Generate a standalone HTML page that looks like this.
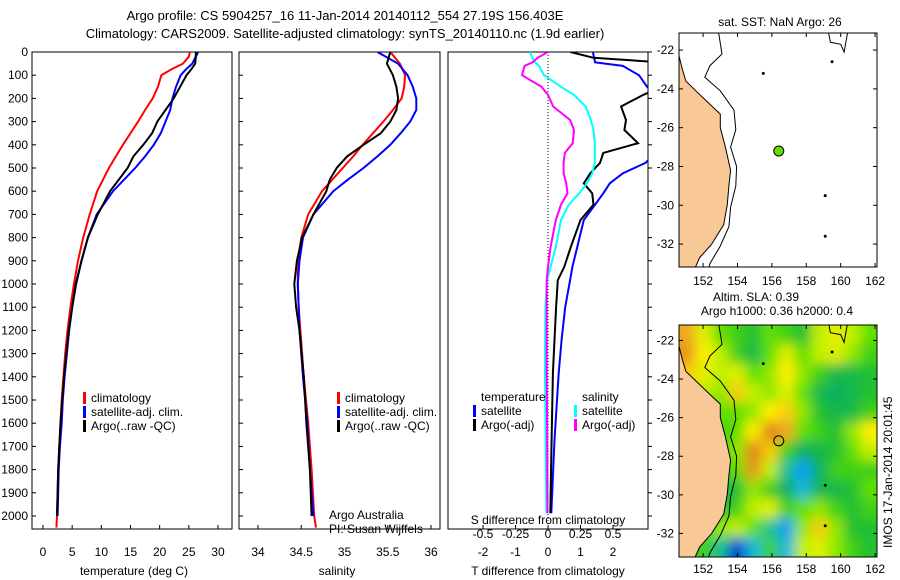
<!DOCTYPE html>
<html><head><meta charset="utf-8"><style>
html,body{margin:0;padding:0;background:#fff}
svg{display:block;font-family:"Liberation Sans",sans-serif;font-size:12px}
</style></head><body>
<svg id="root" width="900" height="580" viewBox="0 0 900 580">
<defs>
<clipPath id="c1"><rect x="32" y="52" width="200" height="477"/></clipPath>
<clipPath id="c2"><rect x="239" y="52" width="201" height="477"/></clipPath>
<clipPath id="c3"><rect x="448" y="52" width="200" height="477"/></clipPath>
<clipPath id="cm1"><rect x="679" y="33" width="198" height="234"/></clipPath>
<clipPath id="cm2"><rect x="679" y="325" width="198" height="232"/></clipPath>
<filter id="blur" x="-5%" y="-5%" width="110%" height="110%"><feGaussianBlur stdDeviation="6"/></filter>
</defs>
<text x="345" y="20" text-anchor="middle" font-size="13">Argo profile: CS 5904257_16 11-Jan-2014 20140112_554 27.19S 156.403E</text>
<text x="345" y="38" text-anchor="middle" font-size="13">Climatology: CARS2009. Satellite-adjusted climatology: synTS_20140110.nc (1.9d earlier)</text>
<g id="g1"></g>
<g id="g2"></g>
<g id="g3"></g>
<g id="gm1"></g>
<g id="gm2"></g>
<text transform="translate(892,548) rotate(-90)" font-size="12">IMOS 17-Jan-2014 20:01:45</text>
</svg>
<script>
const depths = [0,20,50,75,100,150,200,250,300,350,400,450,500,600,700,800,900,1000,1100,1200,1300,1400,1500,1600,1700,1800,1900,2000,2050];
const tempClim = [25.2,25,24,22,20.3,19.7,18.8,17.5,16.3,15,13.7,12.5,11.3,9.3,8,6.9,6,5.3,4.7,4.2,3.8,3.5,3.2,3,2.8,2.6,2.5,2.4,2.3];
const tempSat = [26.6,26.2,25.6,24.5,23.6,22.8,22.2,21.8,21,20.2,19,17.5,15.8,12,9.2,7.7,6.6,5.7,5,4.5,4.1,3.7,3.4,3.2,2.9,2.7,2.6,2.5];
const tempArgo = [26.2,26.2,26.1,25.4,24.6,23.5,22.4,21,19.6,18.7,17.2,15.5,14.5,11.5,9.4,7.7,6.6,5.6,5,4.4,4,3.6,3.3,3,2.8,2.6,2.5,2.4];
const salDepths = [0,50,100,150,200,250,300,350,400,450,500,550,600,700,800,900,1000,1100,1200,1400,1600,1800,2000,2050];
const salClim = [35.53,35.64,35.70,35.69,35.66,35.56,35.45,35.33,35.21,35.10,34.98,34.86,34.74,34.58,34.50,34.46,34.46,34.47,34.49,34.53,34.58,34.62,34.65,34.67];
const salSat = [35.38,35.62,35.73,35.79,35.83,35.83,35.76,35.65,35.53,35.38,35.22,35.04,34.87,34.64,34.52,34.48,34.46,34.47,34.48,34.52,34.57,34.60,34.64];
const salArgo = [35.53,35.49,35.56,35.60,35.62,35.60,35.53,35.42,35.22,35.03,34.91,34.83,34.79,34.64,34.51,34.45,34.42,34.44,34.48,34.53,34.56,34.60,34.62];
const diffDepths = [0,25,45,60,100,150,185,235,293,336,393,435,478,523,566,609,658,724,840,926,983,1100,1240,1385,1672,1988];
const dTSat = [1.38,1.42,1.45,2.3,2.8,3.05,3.3,3.6,4,3.9,3.6,3.3,3.0,2.3,1.9,1.7,1.45,1.1,0.9,0.75,0.68,0.53,0.42,0.33,0.2,0.1];
const dTArgo = [0.69,1.4,3.5,3.8,3.8,3.5,2.93,2.25,2.4,2.35,2.77,1.7,1.6,1.3,1.1,1.36,1.4,1.0,0.7,0.5,0.3,0.25,0.2,0.15,0.11,0.07];
const dSSat = [-0.14,-0.12,-0.1,-0.07,-0.03,0.1,0.2,0.29,0.33,0.35,0.36,0.36,0.36,0.34,0.3,0.24,0.16,0.1,0.06,0.02,-0.008,-0.02,-0.022,-0.023,-0.018,-0.013];
const dSArgo = [0,-0.08,-0.12,-0.18,-0.2,-0.05,0,0.04,0.17,0.2,0.19,0.13,0.12,0.12,0.14,0.15,0.1,0.06,0.02,0.0,-0.01,-0.01,-0.01,-0.01,-0.006,-0.004];
const depthTicks = [0,100,200,300,400,500,600,700,800,900,1000,1100,1200,1300,1400,1500,1600,1700,1800,1900,2000];
const tempTicks = [0,5,10,15,20,25,30];
const salTicks = ["34","34.5","35","35.5","36"];
const tTicks = ["-2","-1","0","1","2"];
const sTicks = ["-0.5","-0.25","0","0.25","0.5"];
const lonTicks = [152,154,156,158,160,162];
const latTicks = [-22,-24,-26,-28,-30,-32];
const argoLon = 156.4, argoLat = -27.2;
const slaGrid = [
[0.35,0.2,0.05,0.0,-0.05,0.05,0.0,-0.05,0.15,0.2,0.15,0.05],
[0.4,0.25,0.15,0.0,-0.1,0.05,0.2,0.05,0.15,0.2,0.1,0.0],
[0.3,0.2,0.15,0.2,0.05,0.1,0.25,0.1,0.0,-0.1,-0.1,-0.05],
[0.2,0.15,0.1,0.3,0.15,0.1,0.2,0.05,-0.1,-0.15,-0.1,-0.05],
[0.15,0.1,0.05,0.05,0.1,0.25,0.3,0.1,-0.05,-0.1,-0.1,0.0],
[0.1,0.05,0.0,0.05,0.25,0.45,0.35,0.05,0.0,-0.05,0.1,0.25],
[0.05,0.05,0.0,0.1,0.45,0.3,0.0,-0.15,-0.1,-0.05,0.05,0.15],
[0.0,0.0,0.0,0.05,0.4,0.15,-0.2,-0.35,-0.15,0.0,0.0,0.0],
[-0.05,-0.05,-0.15,-0.05,0.1,0.0,-0.15,-0.3,-0.1,-0.1,-0.05,0.05],
[0.0,0.0,-0.05,0.0,0.15,0.2,0.0,0.05,0.1,0.0,-0.05,0.0],
[0.05,0.05,0.1,0.15,0.05,-0.2,-0.35,0.1,0.3,0.1,-0.05,-0.05],
[0.0,0.0,-0.2,-0.45,-0.3,0.0,-0.3,0.15,0.2,0.1,0.0,-0.05]];
const coastLon = [150.6,150.6,150.8,151.0,151.7,152.4,153.0,153.0,153.3,153.6,153.5,153.4,153.2,152.5,151.8,151.5,150.6];
const coastLat = [-21.1,-22.3,-23.0,-23.6,-24.2,-24.8,-25.3,-26.0,-27.0,-28.2,-29.0,-30.0,-31.0,-32.0,-32.7,-33.3,-33.3];
const isoLon = [152.9,153.1,152.4,152.1,153.0,153.8,153.9,153.6,153.95,153.9,153.6,153.5,153.0,152.4,152.3];
const isoLat = [-21.1,-22.2,-22.8,-23.4,-24.1,-25.1,-26.1,-27.0,-28.0,-29.0,-30.1,-31.1,-32.1,-33.0,-33.3];

const NS="http://www.w3.org/2000/svg";
function mk(parent,tag,attrs){const e=document.createElementNS(NS,tag);for(const k in attrs)e.setAttribute(k,attrs[k]);parent.appendChild(e);return e;}
function txt(parent,x,y,s,anchor){const t=mk(parent,'text',{x:x,y:y,'text-anchor':anchor||'start'});t.textContent=s;return t;}
const yD = d => 52 + d*0.232;
const xT = t => 43 + t*5.833;
const xS = s => 258 + (s-34)*86.5;
const xdT = v => 548 + v*32.5;
const xdS = v => 548 + v*130;
function line(parent,xs,ds,vals,fn,color,clip,name){
  const pts=vals.map((v,i)=>fn(v).toFixed(1)+','+yD(ds[i]).toFixed(1)).join(' ');
  const p=mk(parent,'polyline',{points:pts,fill:'none',stroke:color,'stroke-width':2,'clip-path':'url(#'+clip+')'});
  
  
  return p;
}
function frame(g,x,y,w,h,name){const r=mk(g,'rect',{x:x,y:y,width:w,height:h,fill:'none',stroke:'#000','stroke-width':1});
  
  }

// Panel 1
const g1=document.getElementById('g1');
frame(g1,32,52,200,477,'temperature-axes-frame');
depthTicks.forEach(d=>{mk(g1,'line',{x1:32,x2:36,y1:yD(d),y2:yD(d),stroke:'#000'});
  const t=txt(g1,28,yD(d)+4,String(d),'end');
  
  });
tempTicks.forEach(v=>{mk(g1,'line',{x1:xT(v),x2:xT(v),y1:529,y2:525,stroke:'#000'});
  const t=txt(g1,xT(v),556,String(v),'middle');
  
  });
const xl1=txt(g1,134,575,'temperature (deg C)','middle');


line(g1,null,depths,tempClim,xT,'#f00','c1','temp-climatology-line');
line(g1,null,depths,tempSat,xT,'#00f','c1','temp-satellite-line');
line(g1,null,depths,tempArgo,xT,'#000','c1','temp-argo-line');
function legend(g,x,y,items){items.forEach((it,i)=>{mk(g,'rect',{x:x,y:y+i*14-10,width:3,height:12,fill:it[1]});
  const t=txt(g,x+8,y+i*14,it[0]);
  
  });}
legend(g1,83,402,[['climatology','#f00'],['satellite-adj. clim.','#00f'],['Argo(..raw -QC)','#000']]);

// Panel 2
const g2=document.getElementById('g2');
frame(g2,239,52,201,477,'salinity-axes-frame');
depthTicks.forEach(d=>{mk(g2,'line',{x1:239,x2:243,y1:yD(d),y2:yD(d),stroke:'#000'});});
salTicks.forEach(s=>{const x=xS(parseFloat(s));mk(g2,'line',{x1:x,x2:x,y1:529,y2:525,stroke:'#000'});
  const t=txt(g2,x,556,s,'middle');
  
  });
const xl2=txt(g2,337,575,'salinity','middle');


line(g2,null,salDepths,salClim,xS,'#f00','c2','sal-climatology-line');
line(g2,null,salDepths,salSat,xS,'#00f','c2','sal-satellite-line');
line(g2,null,salDepths,salArgo,xS,'#000','c2','sal-argo-line');
legend(g2,337,402,[['climatology','#f00'],['satellite-adj. clim.','#00f'],['Argo(..raw -QC)','#000']]);
const a1=txt(g2,329,519,'Argo Australia');
const a2=txt(g2,329,533,'PI: Susan Wijffels');

// Panel 3
const g3=document.getElementById('g3');
frame(g3,448,52,200,477,'difference-axes-frame');
depthTicks.forEach(d=>{mk(g3,'line',{x1:648,x2:652,y1:yD(d),y2:yD(d),stroke:'#000'});});
mk(g3,'line',{x1:548,x2:548,y1:52,y2:529,stroke:'#000','stroke-dasharray':'1,2'});
tTicks.forEach(s=>{const x=xdT(parseFloat(s));mk(g3,'line',{x1:x,x2:x,y1:529,y2:525,stroke:'#000'});
  const t=txt(g3,x,556,s,'middle');
  
  });
sTicks.forEach(s=>{const t=txt(g3,xdS(parseFloat(s)),538,s,'middle');
  
  });
const s3=txt(g3,548,524,'S difference from climatology','middle');
const t3=txt(g3,548,575,'T difference from climatology','middle');
line(g3,null,diffDepths,dTSat,xdT,'#00f','c3','t-diff-satellite-line');
line(g3,null,diffDepths,dTArgo,xdT,'#000','c3','t-diff-argo-line');
line(g3,null,diffDepths,dSSat,xdS,'#0ff','c3','s-diff-satellite-line');
line(g3,null,diffDepths,dSArgo,xdS,'#f0f','c3','s-diff-argo-line');
const lt=txt(g3,481,401,'temperature');
const ls=txt(g3,582,401,'salinity');
legend(g3,473,415,[['satellite','#00f'],['Argo(-adj)','#000']]);
legend(g3,574,415,[['satellite','#0ff'],['Argo(-adj)','#f0f']]);

// Maps
function drawMap(gid,top,h,clip,latTop,latScale,labY,sla){
  const g=document.getElementById(gid);
  const lonX=l=>679+(l-150.6)*17.2;
  const latY=l=>top+(latTop-l)*latScale;
  const cg=mk(g,'g',{'clip-path':'url(#'+clip+')'});
  if(sla){
    const col=v=>{const stops=[[-0.45,[0,64,208]],[-0.35,[16,160,240]],[-0.25,[32,208,192]],[-0.15,[16,176,96]],[-0.05,[32,192,48]],[0.05,[96,224,0]],[0.15,[192,240,0]],[0.25,[255,240,0]],[0.35,[240,168,32]],[0.5,[216,112,16]]];
      if(v<=stops[0][0])return 'rgb('+stops[0][1]+')';
      for(let i=1;i<stops.length;i++){if(v<=stops[i][0]){const f=(v-stops[i-1][0])/(stops[i][0]-stops[i-1][0]);const a=stops[i-1][1],b=stops[i][1];return 'rgb('+a.map((c,k)=>Math.round(c+(b[k]-c)*f)).join(',')+')';}}
      return 'rgb('+stops[stops.length-1][1]+')';};
    const bg=mk(cg,'g',{filter:'url(#blur)'});
    const nr=slaGrid.length,nc=slaGrid[0].length;
    const cw=198/nc,ch=232/nr;
    slaGrid.forEach((row,r)=>row.forEach((v,c)=>{
      const cell=mk(bg,'rect',{x:(679+c*cw-(c===0?20:0)).toFixed(1),y:(325+r*ch-(r===0?20:0)).toFixed(1),width:(cw+1+(c===0?20:0)+(c===nc-1?20:0)).toFixed(1),height:(ch+1+(r===0?20:0)+(r===nr-1?20:0)).toFixed(1),fill:col(v)});
      
      
    }));
  }
  const land=mk(cg,'polygon',{points:coastLon.map((l,i)=>lonX(l).toFixed(1)+','+latY(coastLat[i]).toFixed(1)).join(' '),fill:'#f9c897',stroke:'#000','stroke-width':1});
  
  
  const iso=mk(cg,'polyline',{points:isoLon.map((l,i)=>lonX(l).toFixed(1)+','+latY(isoLat[i]).toFixed(1)).join(' '),fill:'none',stroke:'#000','stroke-width':1});
  
  
  const nc2=mk(cg,'polyline',{points:[[159.3,-21.1],[159.4,-21.6],[160.0,-21.7],[160.2,-22.1],[160.4,-21.1]].map(p=>lonX(p[0]).toFixed(1)+','+latY(p[1]).toFixed(1)).join(' '),fill:'none',stroke:'#000'});
  
  
  [[155.5,-23.2],[159.1,-29.5],[159.1,-31.6],[159.5,-22.6]].forEach(p=>{mk(cg,'circle',{cx:lonX(p[0]),cy:latY(p[1]),r:1.5,fill:'#000'});});
  const fr=mk(g,'rect',{x:679,y:top,width:198,height:h,fill:'none',stroke:'#000'});
  
  
  lonTicks.forEach(l=>{mk(g,'line',{x1:lonX(l),x2:lonX(l),y1:top,y2:top+4,stroke:'#000'});mk(g,'line',{x1:lonX(l),x2:lonX(l),y1:top+h,y2:top+h-4,stroke:'#000'});
    const t=txt(g,lonX(l),labY,String(l),'middle');
    
    });
  latTicks.forEach(l=>{mk(g,'line',{x1:679,x2:683,y1:latY(l),y2:latY(l),stroke:'#000'});mk(g,'line',{x1:877,x2:873,y1:latY(l),y2:latY(l),stroke:'#000'});
    const t=txt(g,674,latY(l)+4,String(l),'end');
    
    });
  const m=mk(g,'circle',{cx:lonX(argoLon),cy:latY(argoLat),r:5,fill:sla?'none':'#66dd00',stroke:'#000','stroke-width':1});
  
  
}
drawMap('gm1',33,234,'cm1',-21.12,19.4,285,false);
drawMap('gm2',325,232,'cm2',-21.2,19.3,573,true);
const gm1=document.getElementById('gm1'),gm2=document.getElementById('gm2');
const mt1=txt(gm1,780,26,'sat. SST: NaN Argo: 26','middle');
const mt2=txt(gm2,756,301,'Altim. SLA: 0.39','middle');
const mt3=txt(gm2,777,315,'Argo h1000: 0.36 h2000: 0.4','middle');
</script>
</body></html>
